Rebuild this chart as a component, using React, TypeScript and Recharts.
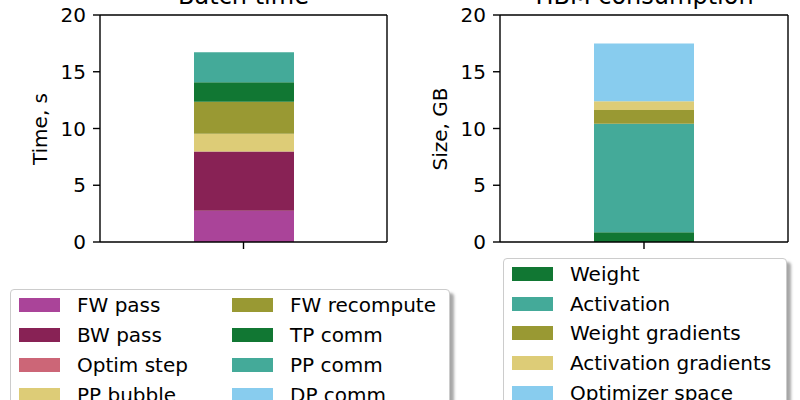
import { BarChart, Bar, XAxis, YAxis, Legend, CartesianGrid } from 'recharts';

// one stacked bar per panel
const category = ['run'];
const yTicks = [0, 5, 10, 15, 20];

const timeSeries = ['FW pass', 'BW pass', 'Optim step', 'PP bubble', 'FW recompute', 'TP comm', 'PP comm', 'DP comm'];
const timeValues = [2.76, 5.22, 0, 1.55, 2.82, 1.73, 2.64, 0];

const memSeries = ['Weight', 'Activation', 'Weight gradients', 'Activation gradients', 'Optimizer space'];
const memValues = [0.85, 9.56, 1.23, 0.76, 5.1];

// Paul Tol "muted" palette
const timeColors = ['#AA4499', '#882255', '#CC6677', '#DDCC77', '#999933', '#117733', '#44AA99', '#88CCEE'];
const memColors = ['#117733', '#44AA99', '#999933', '#DDCC77', '#88CCEE'];

const buildRows = (series: string[], values: number[]) =>
  category.map((name) => {
    const row: Record<string, string | number> = { name };
    series.forEach((s, i) => {
      row[s] = values[i];
    });
    return row;
  });

const timeData = buildRows(timeSeries, timeValues);
const memData = buildRows(memSeries, memValues);

const axisStroke = { stroke: '#000', strokeWidth: 1.4 };

type LegendProps = {
  payload?: any[];
  order: string[];
  colors: string[];
  rows: number;
  rowHeight: number;
  colWidth?: number;
};

const LegendBox = ({ payload, order, colors, rows, rowHeight, colWidth }: LegendProps) => {
  const items = order.map((name, i) => {
    const p = (payload || []).find((it) => it.value === name);
    return { name, color: p?.color || colors[i] };
  });
  return (
    <div
      style={{
        boxSizing: 'border-box',
        border: '1px solid #cccccc',
        borderRadius: 4,
        background: '#fff',
        boxShadow: '4px 4px 3px rgba(0,0,0,0.35)',
        padding: '0 8px 8px 8px',
        display: 'grid',
        gridAutoFlow: 'column',
        gridTemplateRows: `repeat(${rows}, ${rowHeight}px)`,
        gridTemplateColumns: colWidth ? `${colWidth}px auto` : 'auto',
        fontSize: 20,
        color: '#000',
      }}
    >
      {items.map((it) => (
        <div key={it.name} style={{ display: 'flex', alignItems: 'center', whiteSpace: 'nowrap' }}>
          <span style={{ display: 'inline-block', width: 41, height: 14, background: it.color, marginRight: 17 }} />
          <span>{it.name}</span>
        </div>
      ))}
    </div>
  );
};

type PanelProps = {
  data: Record<string, string | number>[];
  series: string[];
  colors: string[];
  legendLeft: number;
  legendTop: number;
  legendWidth: number;
  rows: number;
  rowHeight: number;
  colWidth?: number;
  rightMargin: number;
};

const Panel = ({ data, series, colors, legendLeft, legendTop, legendWidth, rows, rowHeight, colWidth, rightMargin }: PanelProps) => (
  <BarChart width={400} height={400} data={data} margin={{ top: 15, right: rightMargin, bottom: 128, left: 0 }}>
    {/* top and right spines, taken from the plot offset */}
    <CartesianGrid
      stroke="#000"
      strokeWidth={1.4}
      horizontalCoordinatesGenerator={({ offset }: any) => [offset.top]}
      verticalCoordinatesGenerator={({ offset }: any) => [offset.left + offset.width]}
    />
    <XAxis
      dataKey="name"
      height={30}
      tickFormatter={() => ''}
      tickSize={7}
      axisLine={axisStroke}
      tickLine={axisStroke}
    />
    <YAxis
      width={100}
      domain={[0, 20]}
      ticks={yTicks}
      allowDataOverflow
      tickSize={7}
      tickMargin={7}
      tick={{ fill: '#000', fontSize: 20 }}
      axisLine={axisStroke}
      tickLine={axisStroke}
    />
    {series.map((s, i) => (
      <Bar key={s} dataKey={s} name={s} stackId="a" fill={colors[i]} barSize={100} isAnimationActive={false} />
    ))}
    <Legend
      layout="horizontal"
      verticalAlign="middle"
      align="center"
      wrapperStyle={{ left: legendLeft, top: legendTop, width: legendWidth, height: 'auto' }}
      content={(props: any) => (
        <LegendBox payload={props.payload} order={series} colors={colors} rows={rows} rowHeight={rowHeight} colWidth={colWidth} />
      )}
    />
  </BarChart>
);

export default function App() {
  return (
    <div
      style={{
        position: 'absolute',
        left: 0,
        top: 0,
        width: 800,
        height: 400,
        overflow: 'hidden',
        background: '#fff',
        fontFamily: '"DejaVu Sans", sans-serif',
      }}
    >
      <div style={{ position: 'absolute', left: 0, top: 0 }}>
        <Panel
          data={timeData}
          series={timeSeries}
          colors={timeColors}
          legendLeft={10}
          legendTop={289}
          legendWidth={440}
          rows={4}
          rowHeight={30}
          colWidth={213}
          rightMargin={13}
        />
      </div>
      <div style={{ position: 'absolute', left: 400, top: 0 }}>
        <Panel
          data={memData}
          series={memSeries}
          colors={memColors}
          legendLeft={103}
          legendTop={258}
          legendWidth={284}
          rows={5}
          rowHeight={29.75}
          rightMargin={12}
        />
      </div>
      <svg width={800} height={400} style={{ position: 'absolute', left: 0, top: 0, pointerEvents: 'none' }}>
        <text x={243.5} y={4} textAnchor="middle" fontSize={24} fill="#000">
          Batch time
        </text>
        <text x={644.5} y={4} textAnchor="middle" fontSize={24} fill="#000">
          HBM consumption
        </text>
        <text transform="translate(47,129) rotate(-90)" textAnchor="middle" fontSize={20} fill="#000">
          Time, s
        </text>
        <text transform="translate(447,129) rotate(-90)" textAnchor="middle" fontSize={20} fill="#000">
          Size, GB
        </text>
      </svg>
    </div>
  );
}
